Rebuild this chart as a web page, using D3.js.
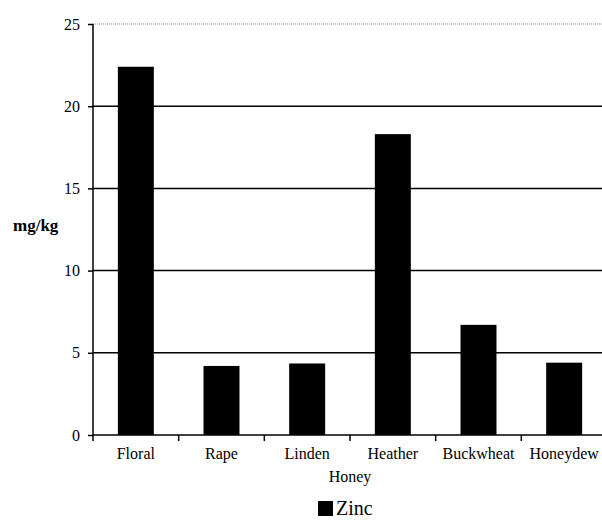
<!DOCTYPE html>
<html><head><meta charset="utf-8">
<script src="https://cdn.jsdelivr.net/npm/d3@7"></script>
<style>body{margin:0;background:#fff}svg{display:block}</style>
</head><body>
<script>
const categories = ["Floral","Rape","Linden","Heather","Buckwheat","Honeydew"];
const zinc = [22.4, 4.2, 4.35, 18.3, 6.7, 4.4];
const yTicks = [0,5,10,15,20,25];
const seriesName = "Zinc";

const SERIF = "'Liberation Serif','Times New Roman',Times,'DejaVu Serif',serif";
const W=602,H=521;
const svg=d3.select("body").append("svg").attr("width",W).attr("height",H)
  .style("font-family",SERIF);
const x=d3.scaleBand().domain(categories).range([93,607]).padding(0);
const y=d3.scaleLinear().domain([0,25]).range([435,24]);

// gridlines
svg.append("g").selectAll("line").data(yTicks.filter(d=>d>0)).join("line")
  .attr("x1",93).attr("x2",W).attr("y1",d=>y(d)).attr("y2",d=>y(d))
  .attr("stroke",d=>d===25?"#888":"#000").attr("stroke-width",d=>d===25?1:1.5)
  .attr("stroke-dasharray",d=>d===25?"1,1":null);

// bars
const bw=x.bandwidth()*0.42;
svg.append("g").selectAll("rect").data(zinc).join("rect")
  .attr("x",(d,i)=>x(categories[i])+x.bandwidth()/2-bw/2)
  .attr("width",bw).attr("y",d=>y(d)).attr("height",d=>y(0)-y(d)).attr("fill","#000");

// y axis
const ya=svg.append("g").attr("transform","translate(93,0)")
  .call(d3.axisLeft(y).tickValues(yTicks).tickSize(5).tickPadding(8));
ya.attr("font-family",null).attr("font-size",null);
ya.select(".domain").attr("stroke","#000").attr("stroke-width",1.5).attr("d","M0,"+y(25)+"V"+y(0));
ya.selectAll(".tick line").attr("stroke-width",1.5);
ya.selectAll("text").style("font-family",SERIF).style("font-size","16px");

// x axis
const xa=svg.append("g").attr("transform","translate(0,435)")
  .call(d3.axisBottom(x).tickSize(0).tickPadding(0));
xa.attr("font-family",null).attr("font-size",null);
xa.select(".domain").attr("stroke","#000").attr("stroke-width",1.5).attr("d","M93,0H"+W);
xa.selectAll("text").attr("dy",null).attr("y",24).style("font-family",SERIF).style("font-size","16px");
svg.append("g").selectAll("line").data(categories).join("line")
  .attr("x1",d=>x(d)).attr("x2",d=>x(d)).attr("y1",435).attr("y2",441)
  .attr("stroke","#000").attr("stroke-width",1.5);

svg.append("text").attr("x",13).attr("y",231).style("font-size","17px").attr("font-weight","bold").text("mg/kg");
svg.append("text").attr("x",350).attr("y",482).attr("text-anchor","middle").style("font-size","16px").text("Honey");
svg.append("rect").attr("x",318).attr("y",501).attr("width",15).attr("height",15).attr("fill","#000");
svg.append("text").attr("x",336).attr("y",515).style("font-size","20px").text(seriesName);
</script>
</body></html>
